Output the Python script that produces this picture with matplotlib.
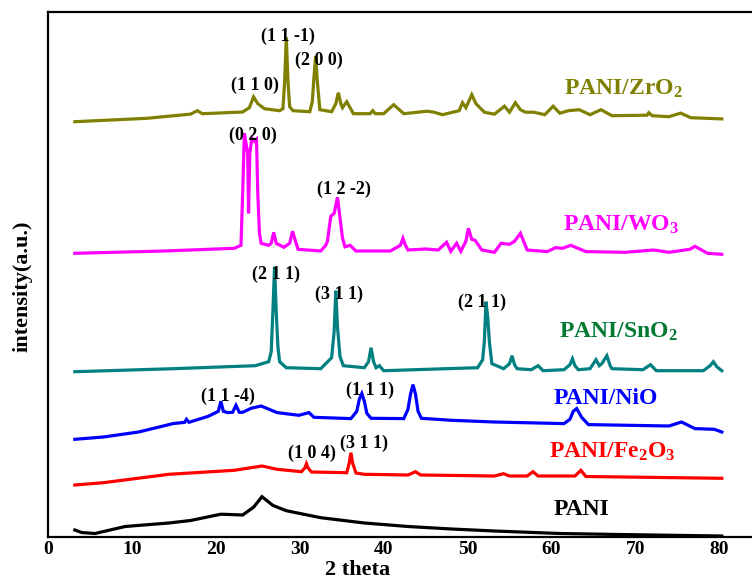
import numpy as np
import matplotlib.pyplot as plt

plt.rcParams['font.family'] = 'Liberation Serif'
plt.rcParams['font.weight'] = 'bold'
plt.rcParams['mathtext.fontset'] = 'custom'
plt.rcParams['mathtext.rm'] = 'Liberation Serif:bold'
plt.rcParams['mathtext.it'] = 'Liberation Serif:bold'
plt.rcParams['mathtext.bf'] = 'Liberation Serif:bold'

# 2 theta / relative intensity (a.u.)
pani_x = [3.2, 4.0, 5.6, 9.2, 14.4, 17.0, 20.6, 23.2, 24.5, 25.5, 26.8, 28.4, 32.5, 37.7,
          42.9, 48.1, 53.2, 61.0, 68.8, 80.3]
pani_y = [0, -2.5, -3.5, 3.5, 7, 9.5, 15.8, 15, 22.8, 33.3, 24.6, 19.3, 12.3, 7,
          3.5, 1, -1, -3.5, -4.6, -6]

fe_x = [3.2, 6.6, 14.4, 22.2, 25.5, 27.3, 30.2, 30.6, 30.8, 31.0, 31.4, 35.6, 35.9, 36.1,
        36.3, 36.7, 37.7, 42.9, 43.8, 44.4, 53.2, 54.3, 55.0, 57.1, 57.8, 58.4, 62.8,
        63.5, 64.1, 80.3]
fe_y = [0, 2.3, 10.7, 14.7, 19, 15.7, 13.3, 17, 21.3, 17, 13, 12.3, 22, 32.3,
        22, 12, 10.7, 10, 13.3, 10, 9, 11.3, 9, 9, 13.3, 9, 9,
        14.7, 8.5, 6.7]

nio_x = [3.2, 6.6, 10.8, 14.9, 16.3, 16.5, 16.8, 19.1, 20.3, 20.6, 20.9, 21.4, 22.0, 22.4,
         22.8, 23.2, 24.2, 25.4, 27.3, 29.9, 31.1, 31.7, 36.1, 36.8, 37.1, 37.4, 37.7,
         38.0, 38.5, 42.4, 42.9, 43.2, 43.5, 43.8, 44.1, 44.5, 48.1, 53.2, 61.5, 62.2,
         62.6, 63.0, 63.6, 64.4, 74.0, 75.5, 77.1, 79.4, 80.3]
nio_y = [0, 2.3, 7.3, 15.7, 17, 20, 17, 23, 28, 38, 28, 26.7, 27, 34,
         27, 27, 31, 33.3, 26.7, 24, 26.7, 22, 20.7, 28, 40, 45.7, 38,
         26, 21, 20.7, 30, 45, 54.7, 45, 28, 21, 19, 17.3, 15.7, 20,
         28, 30.7, 22, 14.7, 13.3, 17.3, 10.7, 10, 7.3]

sn_x = [3.2, 14.9, 24.7, 26.3, 26.6, 26.8, 27.0, 27.2, 27.4, 27.6, 28.4, 32.5, 33.8, 34.1,
        34.3, 34.5, 34.8, 35.2, 37.7, 38.2, 38.5, 38.8, 39.1, 39.5, 40.0, 51.2, 51.8,
        52.0, 52.2, 52.4, 52.6, 52.9, 54.3, 55.0, 55.3, 55.6, 55.9, 57.6, 58.4, 59.0,
        61.5, 62.2, 62.5, 62.8, 63.2, 64.6, 65.3, 65.7, 66.0, 66.6, 67.0, 67.2, 70.9,
        71.8, 72.5, 78.1, 78.9, 79.3, 79.7, 80.3]
sn_y = [0, 3, 6, 10, 20, 60, 105, 60, 25, 10, 4, 3, 14, 40,
        81, 45, 15, 6, 4, 10, 24, 10, 4, 6, 1, 4, 12,
        30, 70, 55, 30, 8, 3, 8, 16, 7, 3, 2, 6, 1,
        2, 7, 13, 6, 2, 3, 12, 6, 8, 16, 6, 3, 2,
        7, 1, 1, 6, 10, 5, 1]

wo_x = [3.2, 13.9, 22.2, 23.0, 23.2, 23.4, 23.6, 23.8, 23.9, 24.05, 24.3, 24.6, 24.85, 25.0,
        25.2, 25.4, 26.3, 26.6, 26.9, 27.2, 28.1, 28.8, 29.15, 29.5, 29.8, 32.5, 33.1,
        33.3, 33.7, 34.1, 34.5, 34.85, 35.1, 35.4, 36.0, 36.7, 40.8, 42.0, 42.3, 42.6,
        42.9, 45.0, 46.5, 47.5, 48.0, 48.7, 49.2, 49.8, 50.1, 50.5, 50.9, 51.7, 53.2,
        54.0, 55.0, 55.6, 56.3, 57.1, 59.5, 60.5, 61.3, 62.3, 64.1, 68.8, 72.2, 74.0,
        76.5, 77.1, 78.6, 80.3]
wo_y = [0, 2.3, 5, 8, 60, 120, 110, 100, 40, 100, 115, 112, 114, 60,
        20, 10, 8, 10, 21, 10, 6, 10, 22, 12, 4, 2.3, 8,
        12, 37, 40, 56, 32, 15, 6.5, 8, 2.3, 2.3, 8, 15, 8,
        3.3, 4.3, 3.3, 11, 2, 10, 2, 12, 25, 14, 13, 3.3, 1,
        10, 9, 12, 20, 3.3, 1.7, 5.7, 5, 8, 1.7, 1, 3.3, 1,
        4, 7, 0, -1]

zr_x = [3.2, 11.8, 17.0, 17.8, 18.4, 23.2, 24.0, 24.5, 25.0, 25.8, 27.6, 28.0, 28.2, 28.4,
        28.6, 28.8, 29.2, 31.2, 31.5, 31.7, 31.9, 32.1, 32.4, 33.8, 34.3, 34.6, 34.9,
        35.1, 35.6, 36.0, 36.4, 38.4, 38.7, 39.0, 40.0, 41.2, 42.4, 45.2, 46.0, 47.0,
        49.0, 49.4, 49.8, 50.5, 51.0, 52.0, 53.2, 54.4, 55.0, 55.7, 56.3, 56.9, 57.9,
        59.2, 60.2, 61.0, 62.0, 63.3, 64.6, 65.9, 67.2, 71.4, 71.6, 72.0, 74.0, 75.4,
        76.6, 80.3]
zr_y = [0, 3.4, 7.6, 11, 8, 9.7, 14, 24.8, 18, 13, 11, 13, 40, 84.5,
        40, 15, 11, 10, 20, 45, 65.5, 40, 12, 10, 18, 29, 18,
        14, 20, 14, 8, 8, 11, 8, 8, 17, 8, 10.5, 9.5, 7,
        11, 19, 14, 27, 18, 9.5, 7.5, 15.5, 9.5, 19, 12, 9.5, 9.5,
        7, 15.5, 8.5, 11, 12, 7, 12, 6, 6.5, 9, 6, 5, 8.6,
        4, 2.8]

offsets = [7, 52, 97.7, 165.3, 283.7, 415.3]
names = ['PANI', r'$\mathrm{PANI/Fe_2O_3}$', 'PANI/NiO', r'$\mathrm{PANI/SnO_2}$',
         r'$\mathrm{PANI/WO_3}$', r'$\mathrm{PANI/ZrO_2}$']
line_colors = ['black', '#ff0000', '#0000ff', '#008080', '#ff00ff', '#808000']
text_colors = ['black', '#ff0000', '#0000ff', '#007a33', '#ff00ff', '#808000']
label_pos = [(60.3, 22), (59.7, 79), (60.3, 133), (60.9, 199), (61.4, 306), (61.5, 442)]

# miller indices
hkl = ['(1 1 -1)', '(2 0 0)', '(1 1 0)', '(0 2 0)', '(1 2 -2)', '(2 1 1)', '(3 1 1)',
       '(2 1 1)', '(1 1 -4)', '(1 1 1)', '(1 0 4)', '(3 1 1)']
hkl_pos = [(28.55, 500.5), (32.3, 477), (24.7, 451.5), (24.4, 402), (35.3, 347.5),
           (27.2, 263), (34.7, 242.5), (51.7, 234.5), (21.4, 141), (38.4, 147),
           (31.5, 83.5), (37.7, 94)]

series = [(pani_x, pani_y), (fe_x, fe_y), (nio_x, nio_y), (sn_x, sn_y),
          (wo_x, wo_y), (zr_x, zr_y)]

fig = plt.figure(figsize=(7.52, 5.81), dpi=100)
ax = fig.add_axes([48 / 752, 44 / 581, 1 - 48 / 752, 525 / 581])

for (x, y), off, c in zip(series, offsets, line_colors):
    ax.plot(np.array(x), np.array(y) + off, color=c, lw=2.3, solid_joinstyle='miter')

for name, (tx, ty), c in zip(names, label_pos, text_colors):
    ax.text(tx, ty, name, color=c, fontsize=17, ha='left', va='baseline')

for t, (tx, ty) in zip(hkl, hkl_pos):
    ax.text(tx, ty, t, fontsize=13, ha='center', va='center', color='black')

ax.set_xlim(0, 83.9)
ax.set_ylim(0, 525)
ax.set_xticks(np.arange(0, 81, 10))
ax.set_yticks([])
ax.tick_params(axis='x', length=0, labelsize=14, pad=3)
for s in ['left', 'top', 'bottom']:
    ax.spines[s].set_linewidth(1.6)
ax.spines['right'].set_visible(False)

fig.text(358 / 752, 1 / 581, '2 theta', fontsize=16, ha='center', va='bottom')
ax.text(-3.0, 251, 'intensity(a.u.)', fontsize=16, rotation=90, ha='center', va='center')

fig.savefig('out.png', dpi=100)
